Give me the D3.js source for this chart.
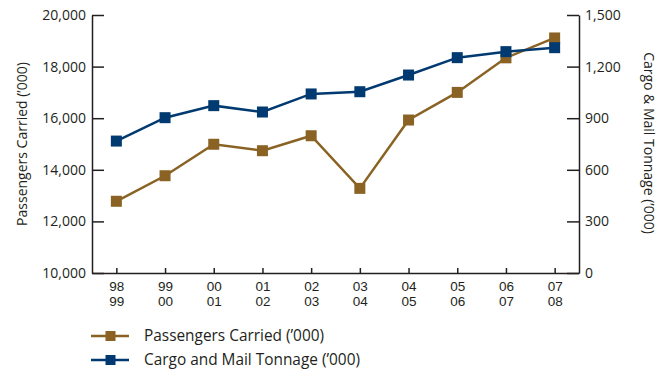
<!DOCTYPE html>
<html>
<head>
<meta charset="utf-8">
<script src="https://cdn.jsdelivr.net/npm/d3@7"></script>
<style>
  body { margin: 0; background: #fff; }
  svg text { font-family: "Open Sans", "Noto Sans", sans-serif; fill: #231f20; }
</style>
</head>
<body>
<svg id="chart"></svg>
<script>
// years shown as two-line labels
const yearsTop = ["98", "99", "00", "01", "02", "03", "04", "05", "06", "07"];
const yearsBottom = ["99", "00", "01", "02", "03", "04", "05", "06", "07", "08"];
// passengers carried ('000), left axis
const passengers = [12780, 13770, 14990, 14740, 15320, 13280, 15930, 17000, 18340, 19110];
// cargo and mail tonnage ('000), right axis
const cargo = [767, 903, 973, 936, 1041, 1054, 1151, 1252, 1287, 1310];
const leftTicks = [10000, 12000, 14000, 16000, 18000, 20000];
const rightTicks = [0, 300, 600, 900, 1200, 1500];

const width = 670, height = 373;
const plotLeft = 92, plotRight = 579, plotTop = 15, plotBottom = 273;
const brown = "#8a6324", navy = "#003a70";

const svg = d3.select("#chart").attr("width", width).attr("height", height);

const x = d3.scalePoint().domain(d3.range(yearsTop.length)).range([plotLeft, plotRight]).padding(0.5);
const yL = d3.scaleLinear().domain([10000, 20000]).range([plotBottom, plotTop]);
const yR = d3.scaleLinear().domain([0, 1500]).range([plotBottom, plotTop]);

// left axis, ticks point into the plot
const gl = svg.append("g").attr("transform", `translate(${plotLeft},0)`)
  .call(d3.axisLeft(yL).tickValues(leftTicks).tickFormat(d3.format(","))
    .tickSizeInner(-12).tickSizeOuter(0).tickPadding(6));
// right axis, ticks point into the plot
const gr = svg.append("g").attr("transform", `translate(${plotRight},0)`)
  .call(d3.axisRight(yR).tickValues(rightTicks).tickFormat(d3.format(","))
    .tickSizeInner(-12).tickSizeOuter(0).tickPadding(6));
// bottom axis, ticks point up
const gb = svg.append("g").attr("transform", `translate(0,${plotBottom})`)
  .call(d3.axisBottom(x).tickSizeInner(-5).tickSizeOuter(0).tickFormat(""));

[gl, gr, gb].forEach(g => {
  g.selectAll("path, line").attr("stroke", "#231f20").attr("stroke-width", 1.5);
  g.selectAll("text").style("font-size", "14px").attr("fill", "#231f20");
});

// two-line category labels (tighter font so the two rows don't collide)
gb.selectAll(".tick").each(function(d) {
  const t = d3.select(this);
  [yearsTop[d], yearsBottom[d]].forEach((s, k) => {
    t.append("text").attr("text-anchor", "middle").attr("y", 17.5 + k * 15.2)
      .style("font-family", "'Liberation Sans', Arial, sans-serif")
      .style("font-size", "13.5px").text(s);
  });
});

// axis titles
svg.append("text").attr("transform", `translate(27,${(plotTop + plotBottom) / 2}) rotate(-90)`)
  .attr("text-anchor", "middle").style("font-size", "14px").text("Passengers Carried (’000)");
svg.append("text").attr("transform", `translate(644,${(plotTop + plotBottom) / 2 - 1}) rotate(90)`)
  .attr("text-anchor", "middle").style("font-size", "14px").text("Cargo & Mail Tonnage (’000)");

function drawSeries(values, scale, color) {
  const line = d3.line().x((d, i) => x(i)).y(d => scale(d));
  svg.append("path").datum(values).attr("d", line)
    .attr("fill", "none").attr("stroke", color).attr("stroke-width", 2.5);
  svg.selectAll(null).data(values).enter().append("rect")
    .attr("x", (d, i) => x(i) - 5.5).attr("y", d => scale(d) - 5.5)
    .attr("width", 11).attr("height", 11).attr("fill", color);
}
drawSeries(passengers, yL, brown);
drawSeries(cargo, yR, navy);

// legend
const legend = [
  { label: "Passengers Carried (’000)", color: brown },
  { label: "Cargo and Mail Tonnage (’000)", color: navy }
];
const lg = svg.selectAll(".legend").data(legend).enter().append("g")
  .attr("transform", (d, i) => `translate(0,${336 + i * 24})`);
lg.append("line").attr("x1", 91).attr("x2", 129).attr("y1", 0).attr("y2", 0)
  .attr("stroke", d => d.color).attr("stroke-width", 2.5);
lg.append("rect").attr("x", 105.5).attr("y", -5).attr("width", 10).attr("height", 10).attr("fill", d => d.color);
lg.append("text").attr("x", 144).attr("y", 0).attr("dy", "0.35em").style("font-size", "15.4px").text(d => d.label);
</script>
</body>
</html>
